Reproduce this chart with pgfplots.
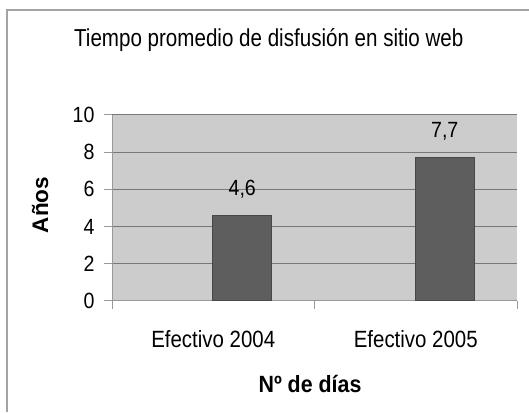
\documentclass[border=0pt]{standalone}
\usepackage{fontspec}
\setmainfont{Liberation Sans}
\usepackage{pgfplots}
\pgfplotsset{compat=1.18}
\definecolor{plotbg}{HTML}{CCCCCC}
\definecolor{barfill}{HTML}{5E5E5E}
\definecolor{barline}{HTML}{474747}
\definecolor{gridc}{HTML}{787878}
\definecolor{axisc}{HTML}{999999}
\definecolor{framec}{HTML}{A3A3A3}
% the reference text is a little narrower than it is tall
\newcommand{\tk}[1]{\scalebox{0.89}[1]{\fontsize{22}{26}\selectfont #1}}
\newcommand{\cat}[1]{\scalebox{0.87}[1]{\fontsize{23.5}{28}\selectfont #1}}

\begin{document}
\begin{tikzpicture}[x=1pt,y=1pt]
\path[use as bounding box] (0,0) rectangle (529,412);
\fill[white] (0,0) rectangle (529,412);
\draw[framec, line width=2pt] (6.5,0) -- (6.5,401.5) -- (529,401.5);
\node[anchor=base] at (268.8,365) {\scalebox{0.84}[1]{\fontsize{24.5}{29}\selectfont Tiempo promedio de disfusión en sitio web}};
\begin{axis}[
  at={(112pt,111pt)}, anchor=south west,
  scale only axis, width=405pt, height=186pt,
  ybar,
  xmin=-0.5, xmax=1.5, ymin=0, ymax=10,
  ytick={0,2,...,10},
  xtick={-0.5,0.5,1.5}, xticklabels={},
  axis lines*=left,
  axis line style={axisc, line width=1pt},
  tick align=outside, major tick length=8pt,
  tick style={axisc, line width=1pt},
  ymajorgrids, grid style={gridc, line width=1pt},
  axis background/.style={fill=plotbg},
  clip=false,
  /pgf/number format/assume math mode=true,
  yticklabel={\tk{\pgfmathprintnumber{\tick}}},
  yticklabel style={xshift=-6pt},
  nodes near coords={\tk{\pgfmathprintnumber[use comma,fixed,fixed zerofill,precision=1]{\pgfplotspointmeta}}},
  nodes near coords style={text=black, anchor=base, yshift=20pt},
]
\addplot[fill=barfill, draw=barline, line width=1pt, bar width=59pt, bar shift=29pt]
  coordinates {(0,4.6) (1,7.7)};
\node[anchor=base, yshift=-46pt] at (axis cs:0,0) {\cat{Efectivo 2004}};
\node[anchor=base, yshift=-46pt] at (axis cs:1,0) {\cat{Efectivo 2005}};
\end{axis}
\node[anchor=base] at (310,20) {\scalebox{0.91}[1]{\fontsize{23.5}{28}\selectfont\bfseries Nº de días}};
\node[anchor=base, rotate=90] at (48,207) {\fontsize{22.5}{27}\selectfont\bfseries Años};
\end{tikzpicture}
\end{document}
